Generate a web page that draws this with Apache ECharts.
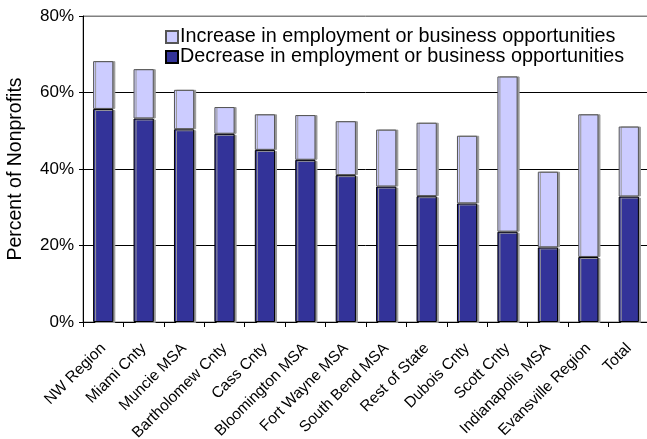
<!DOCTYPE html>
<html>
<head>
<meta charset="utf-8">
<script src="https://cdn.jsdelivr.net/npm/echarts@6/dist/echarts.min.js"></script>
<style>
  html, body { margin: 0; padding: 0; background: #fff; }
  #chart { width: 647px; height: 439px; }
</style>
</head>
<body>
<div id="chart"></div>
<script>
// Regions surveyed
const regions = [
  'NW Region', 'Miami Cnty', 'Muncie MSA', 'Bartholomew Cnty', 'Cass Cnty',
  'Bloomington MSA', 'Fort Wayne MSA', 'South Bend MSA', 'Rest of State',
  'Dubois Cnty', 'Scott Cnty', 'Indianapolis MSA', 'Evansville Region', 'Total'
];

// Share of nonprofits reporting a decrease (bottom segment), in percent
const decreaseShare = [55.7, 53.2, 50.4, 49.2, 45.0, 42.4, 38.4, 35.4, 32.9, 31.0, 23.6, 19.5, 17.0, 32.8];

// Share reporting an increase (stacked on top), in percent
const increaseShare = [12.5, 12.9, 10.3, 7.0, 9.3, 11.7, 14.1, 14.9, 19.2, 17.7, 40.6, 19.8, 37.3, 18.3];

const seriesNames = [
  'Increase in employment or business opportunities',
  'Decrease in employment or business opportunities'
];

const yTicks = [0, 20, 40, 60, 80];

const font = 'Arial, "Liberation Sans", sans-serif';

const chart = echarts.init(document.getElementById('chart'), null, { renderer: 'canvas' });

chart.setOption({
  animation: false,
  backgroundColor: '#ffffff',
  grid: {
    left: 83, right: -2, top: 16, bottom: 117,
    outerBoundsMode: 'none',
    containLabel: false,
    show: true, borderColor: '#808080', borderWidth: 1, backgroundColor: 'transparent'
  },
  legend: {
    orient: 'vertical',
    left: 160,
    top: 22,
    icon: 'rect',
    itemWidth: 12,
    itemHeight: 12,
    itemGap: 0,
    data: seriesNames,
    textStyle: { fontFamily: font, fontSize: 19.8, lineHeight: 20, color: '#000', padding: [0, 0, 0, -3] }
  },
  xAxis: {
    type: 'category',
    data: regions,
    axisLine: { lineStyle: { color: '#000', width: 1 } },
    axisTick: { show: true, length: 5, lineStyle: { color: '#000' } },
    axisLabel: {
      rotate: 45,
      margin: 24,
      fontFamily: font,
      fontSize: 15.5,
      color: '#000',
      interval: 0
    }
  },
  yAxis: {
    type: 'value',
    min: yTicks[0],
    max: yTicks[yTicks.length - 1],
    interval: 20,
    name: 'Percent of Nonprofits',
    nameLocation: 'middle',
    nameGap: 57,
    nameTextStyle: { fontFamily: font, fontSize: 19.5, color: '#000' },
    axisLine: { show: true, lineStyle: { color: '#000', width: 1 } },
    axisTick: { show: true, length: 4, lineStyle: { color: '#000' } },
    axisLabel: {
      fontFamily: font, fontSize: 17, color: '#000', margin: 9,
      formatter: v => v + '%'
    },
    splitLine: {
      show: true,
      lineStyle: { color: ['#000', '#000', '#000', '#000', '#808080'], width: 1 }
    }
  },
  series: [
    {
      name: seriesNames[1],
      type: 'bar',
      stack: 'share',
      barWidth: '50%',
      data: decreaseShare,
      itemStyle: {
        color: '#333399',
        borderColor: '#000000',
        borderWidth: 1,
        shadowColor: '#999999',
        shadowOffsetX: 2,
        shadowOffsetY: 1
      }
    },
    {
      name: seriesNames[0],
      type: 'bar',
      stack: 'share',
      barWidth: '50%',
      data: increaseShare,
      itemStyle: {
        color: '#ccccff',
        borderColor: '#555555',
        borderWidth: 1,
        shadowColor: '#999999',
        shadowOffsetX: 2,
        shadowOffsetY: 0
      }
    }
  ]
});
</script>
</body>
</html>
